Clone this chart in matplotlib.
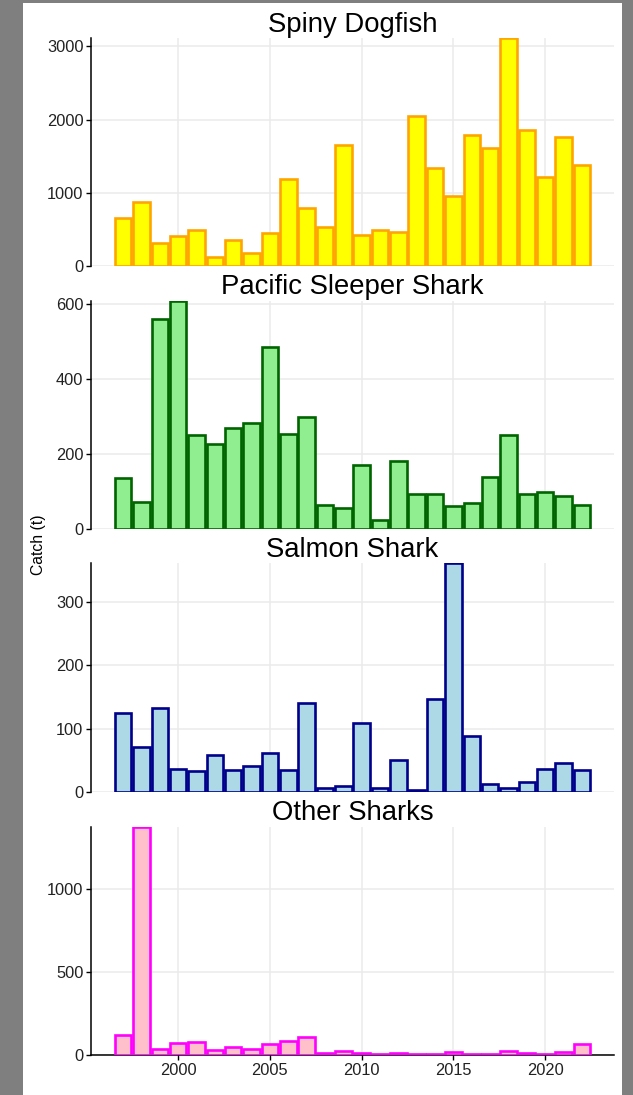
import matplotlib
matplotlib.use("Agg")
import matplotlib.pyplot as plt
from matplotlib.patches import Rectangle
from matplotlib.transforms import Bbox, TransformedBbox

plt.rcParams['font.family'] = ['Liberation Sans', 'DejaVu Sans']

years = list(range(1997, 2023))

spiny_dogfish = [659, 868, 318, 405, 495, 123, 359, 177, 450, 1186, 795, 527, 1655,
                 427, 486, 464, 2045, 1332, 950, 1786, 1609, 3114, 1864, 1218, 1764, 1382]
sleeper_shark = [135, 73, 558, 608, 249, 227, 270, 282, 483, 252, 297, 64, 55,
                 171, 25, 180, 93, 92, 60, 70, 139, 250, 92, 98, 89, 64]
salmon_shark = [124, 71, 132, 37, 33, 58, 35, 41, 61, 34, 140, 7, 9,
                108, 6, 50, 3, 147, 361, 89, 12, 6, 15, 36, 45, 34]
other_sharks = [123, 1378, 36, 70, 76, 28, 50, 38, 68, 85, 107, 12, 22,
                10, 4, 10, 8, 6, 18, 8, 8, 22, 14, 6, 18, 68]

titles = ["Spiny Dogfish", "Pacific Sleeper Shark", "Salmon Shark", "Other Sharks"]
series = [spiny_dogfish, sleeper_shark, salmon_shark, other_sharks]
fills = ["#FFFF00", "#90EE90", "#ADD8E6", "#FFC0CB"]
edges = ["#FFA500", "#006400", "#00008B", "#FF00FF"]
yticks = [[0, 1000, 2000, 3000], [0, 200, 400, 600], [0, 100, 200, 300], [0, 500, 1000]]
xticks = [2000, 2005, 2010, 2015, 2020]

W, H = 633, 1095
fig = plt.figure(figsize=(W / 100, H / 100), dpi=100)
fig.patch.set_facecolor("#7f7f7f")
fig.patches.append(Rectangle((23 / W, 0), (622 - 23) / W, (H - 3) / H,
                             transform=fig.transFigure, facecolor="white",
                             edgecolor="none", zorder=-10))

# panel pixel extents (top, bottom)
panels = [(38, 266), (300.5, 529), (563, 792), (826.5, 1055)]
left, right = 91, 614

for i, (top, bot) in enumerate(panels):
    ax = fig.add_axes([left / W, 1 - bot / H, (right - left) / W, (bot - top) / H])
    ax.set_facecolor("none")
    vals = series[i]
    ax.bar(years, vals, width=0.9, color=fills[i], edgecolor=edges[i],
           linewidth=1.9, zorder=3)
    ax.set_xlim(1995.25, 2023.75)
    ax.set_ylim(0, max(vals))
    ax.set_yticks(yticks[i])
    ax.set_xticks(xticks)
    ax.grid(True, color="#EBEBEB", linewidth=1.1, zorder=0)
    ax.set_axisbelow(True)
    for s in ["top", "right"]:
        ax.spines[s].set_visible(False)
    ax.spines["left"].set_linewidth(1.1)
    ax.tick_params(axis="y", length=3.5, width=1.0, labelsize=11.8, pad=2,
                   colors="black", labelcolor="#222222")
    if i < 3:
        ax.spines["bottom"].set_visible(False)
        ax.tick_params(axis="x", length=0, labelbottom=False)
    else:
        ax.spines["bottom"].set_linewidth(1.1)
        ax.tick_params(axis="x", length=3.5, width=1.0, labelsize=11.8, pad=2,
                       labelcolor="#222222")
    t = ax.set_title(titles[i], fontsize=19.8, pad=3)
    clip = TransformedBbox(Bbox([[0, 1 - top / H], [1, 1]]), fig.transFigure)
    t.set_clip_box(clip)
    t.set_clip_on(True)

fig.text(39 / W, 1 - 545 / H, "Catch (t)", rotation=90, ha="center", va="center",
         fontsize=11.3)

fig.savefig("out.png", dpi=100, facecolor=fig.get_facecolor())
